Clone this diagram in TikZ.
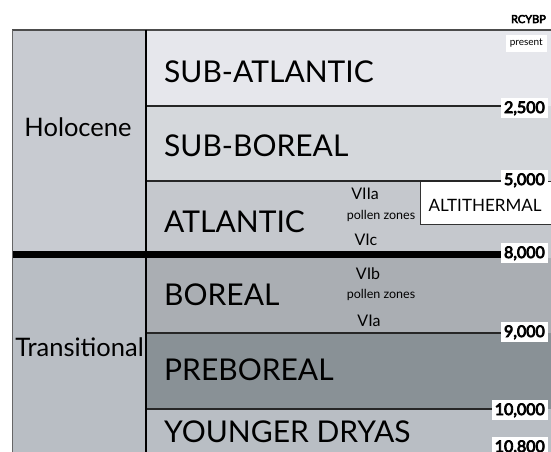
\documentclass[tikz,border=0pt]{standalone}
\usepackage{fontspec}
\setmainfont{Lato}
\newfontfamily\numfont{Lato}[FakeBold=5]
\definecolor{holoc}{RGB}{200,203,209}
\definecolor{trans}{RGB}{185,190,196}
\definecolor{subatl}{RGB}{230,231,236}
\definecolor{subbor}{RGB}{213,216,220}
\definecolor{atl}{RGB}{197,200,205}
\definecolor{bor}{RGB}{170,174,179}
\definecolor{prebor}{RGB}{137,145,150}
\definecolor{ydry}{RGB}{185,190,196}
\begin{document}
\begin{tikzpicture}[x=1pt,y=-1pt,
  era/.style={anchor=base,inner sep=0pt,font=\fontsize{25.5}{30}\selectfont},
  period/.style={anchor=base west,inner sep=0pt,font=\fontsize{30}{34}\selectfont},
  zone/.style={anchor=base,inner sep=0pt,font=\fontsize{16}{18}\selectfont},
  pz/.style={anchor=base,inner sep=0pt,font=\fontsize{12.5}{14}\selectfont},
  age/.style={anchor=base east,fill=white,inner xsep=3pt,inner ysep=3pt,font=\numfont\fontsize{16}{18}\selectfont},
  bline/.style={line width=1.3pt,draw=black!85}
]
\useasboundingbox (0,0) rectangle (551,452);
\fill[white] (0,0) rectangle (551,452);
% bands
\fill[holoc] (12,30) rectangle (146,251);
\fill[trans] (12,258) rectangle (146,452);
\fill[subatl] (146,30) rectangle (551,106);
\fill[subbor] (146,106) rectangle (551,181);
\fill[atl] (146,181) rectangle (551,258);
\fill[bor] (146,258) rectangle (551,333);
\fill[prebor] (146,333) rectangle (551,409);
\fill[ydry] (146,409) rectangle (551,452);
% altithermal
\node[draw=black!80,line width=0.8pt,fill=white,minimum width=133pt,minimum height=43pt,inner sep=0pt] (alt) at (486.5,202.5) {};
\node[anchor=base,inner sep=0pt,font=\fontsize{17}{19}\selectfont] (alttxt) at (485,211) {ALTITHERMAL};
% age labels
\node[anchor=base east,inner sep=0pt,font=\numfont\fontsize{11}{13}\selectfont] (rcy) at (546,23) {RCYBP};
\node[anchor=base east,fill=white,inner xsep=4pt,inner ysep=4pt,font=\fontsize{10}{12}\selectfont] (pres) at (547,46) {present};
\node[age] (l2500) at (548,113) {2,500};
\node[age] (l5000) at (548,185) {5,000};
\node[age] (l8000) at (548,258) {8,000};
\node[age] (l9000) at (548,337) {9,000};
\node[age] (l10000) at (548,415) {10,000};
\node[age] (l10800) at (548,452) {10,800};
% boundary lines
\coordinate (b1) at (146,106);
\coordinate (b2) at (146,181);
\coordinate (b3) at (12,254.5);
\coordinate (b4) at (146,333);
\coordinate (b5) at (146,409);
\draw[line width=1.2pt,black!70] (12,30) -- (551,30);
\draw[bline] (b1) -- (b1 -| l2500.west);
\draw[bline] (b2) -- (b2 -| l5000.west);
\draw[line width=7pt,black] (b3) -- (b3 -| l8000.west);
\draw[bline] (b4) -- (b4 -| l9000.west);
\draw[bline] (b5) -- (b5 -| l10000.west);
\draw[line width=2pt,black] (146,30) -- (146,452);
\draw[line width=0.8pt,black!60] (12,30) -- (12,452);
% eras
\node[era] (holo) at (78,136.7) {Holocene};
\node[era] (tran) at (79.5,356) {Transitional};
% periods
\node[period] (psa) at (164,82.3) {SUB-ATLANTIC};
\node[period] (psb) at (164,156) {SUB-BOREAL};
\node[period] (pat) at (164,232) {ATLANTIC};
\node[period] (pbo) at (164,305) {BOREAL};
\node[period] (ppb) at (164,380) {PREBOREAL};
\node[period] (pyd) at (164,442) {YOUNGER DRYAS};
% pollen zones
\node[zone] (z7a) at (365,199) {VIIa};
\node[pz] (pz1) at (381,219.5) {pollen zones};
\node[zone] (z6c) at (366,245) {VIc};
\node[zone] (z6b) at (368,279) {VIb};
\node[pz] (pz2) at (381,298) {pollen zones};
\node[zone] (z6a) at (369,326) {VIa};
\end{tikzpicture}
\end{document}
